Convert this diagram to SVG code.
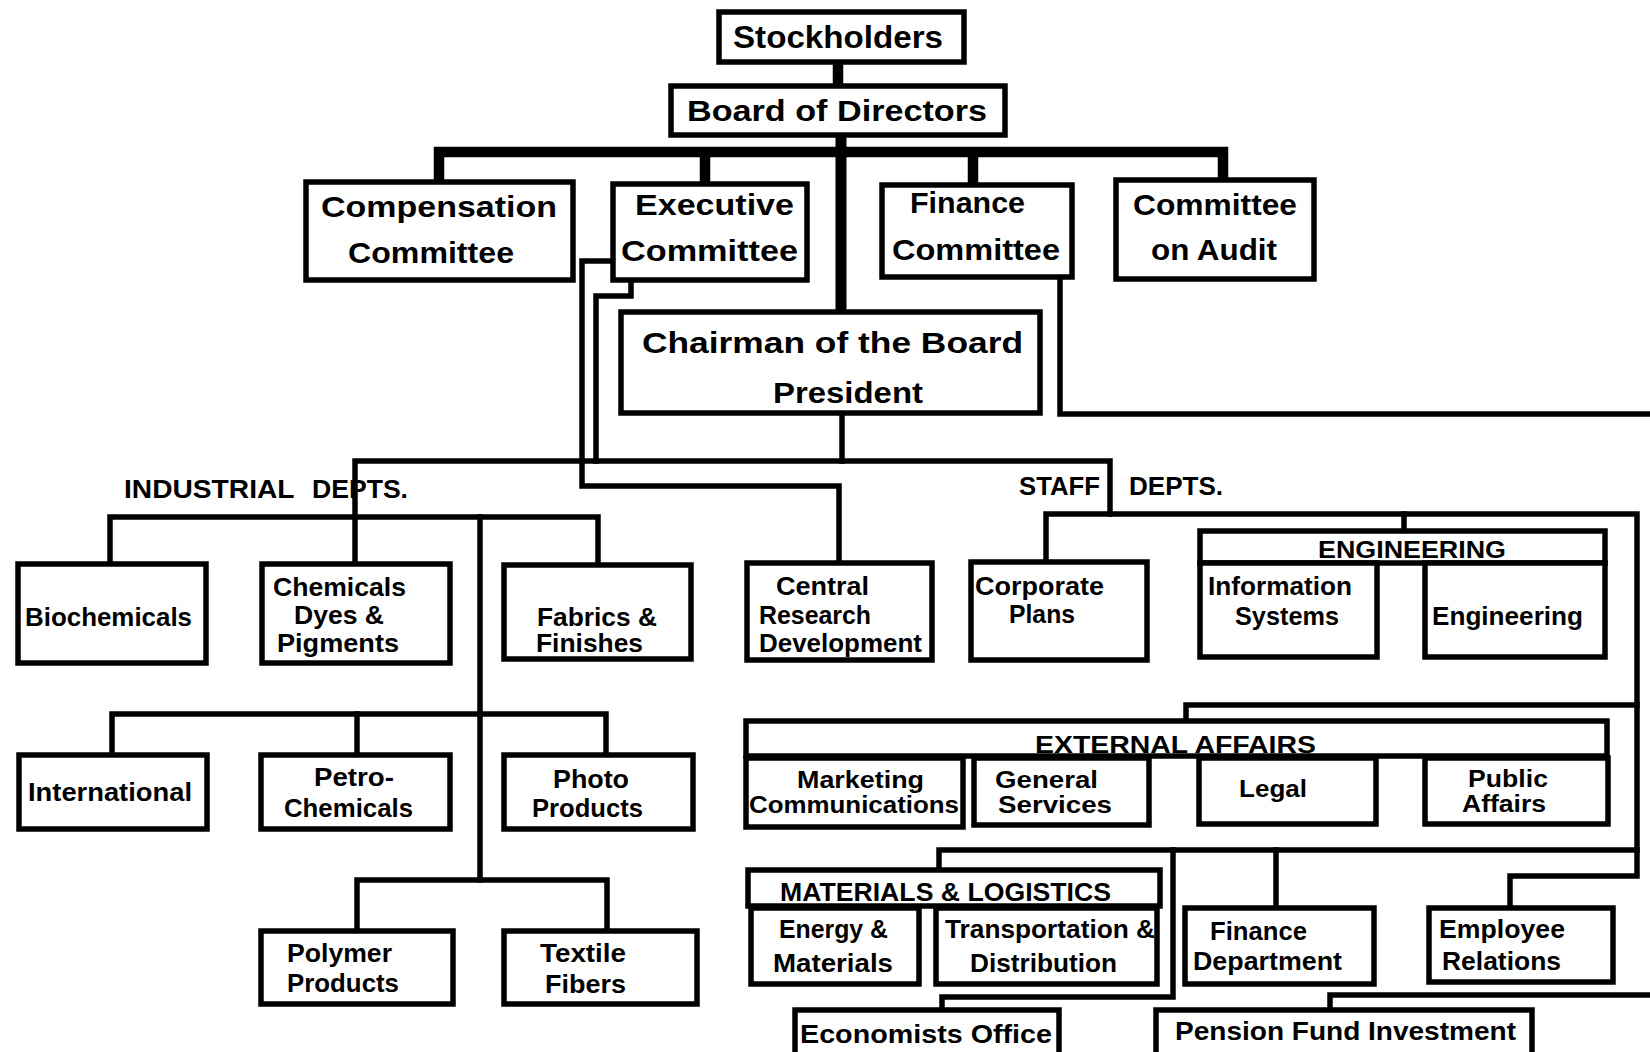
<svg xmlns="http://www.w3.org/2000/svg" width="1650" height="1052" viewBox="0 0 1650 1052">
<style>
.box{fill:#fff;stroke:#000;stroke-width:5.5}
.thick{fill:none;stroke:#000;stroke-width:10.5;stroke-linejoin:miter;stroke-linecap:butt}
.ln{fill:none;stroke:#000;stroke-width:5.5;stroke-linejoin:miter;stroke-linecap:square}
text{font-family:"Liberation Sans",Arial,Helvetica,sans-serif;font-weight:bold;fill:#000}
.t1{font-size:30px}
.t2{font-size:25px}
.t3{font-size:23.5px}
.hd{font-size:25px;font-weight:bold}
</style>
<rect x="0" y="0" width="1650" height="1052" fill="#fff"/>
<g id="connectors">
<path class="thick" d="M838 62V88"/>
<path class="thick" d="M439 184V152H1223V181"/>
<path class="thick" d="M705 152V186"/>
<path class="thick" d="M973 152V186"/>
<path class="thick" d="M841 134V314" style="stroke-width:11"/>
<path class="ln" d="M842 413V461"/>
<path class="ln" d="M355 564V461H1110V514"/>
<path class="ln" d="M110 564V517H598V565"/>
<path class="ln" d="M480 517V880"/>
<path class="ln" d="M112 755V714H606V755"/>
<path class="ln" d="M357 714V755"/>
<path class="ln" d="M357 931V880H607V931"/>
<path class="ln" d="M613 261H582V486H839V563"/>
<path class="ln" d="M631 280V296H596V461"/>
<path class="ln" d="M1046 562V514H1637V876H1510V908"/>
<path class="ln" d="M1404 514V531"/>
<path class="ln" d="M1186 721V705H1637"/>
<path class="ln" d="M939 870V850H1637"/>
<path class="ln" d="M1276 850V908"/>
<path class="ln" d="M1173 850V997H942V1010"/>
<path class="ln" d="M1330 1010V995H1660"/>
<path class="ln" d="M1060 277V414H1660"/>
</g>
<g id="stockholders"><rect class="box" x="719" y="12" width="245" height="50"/><text class="t1" x="733" y="48" textLength="210" lengthAdjust="spacingAndGlyphs" style="font-size:31px">Stockholders</text></g>
<g id="board"><rect class="box" x="671" y="86" width="334" height="49"/><text class="t1" x="687" y="121" textLength="300" lengthAdjust="spacingAndGlyphs">Board  of  Directors</text></g>
<g id="compensation"><rect class="box" x="306" y="182" width="267" height="98"/><text class="t1" x="321" y="217" textLength="236" lengthAdjust="spacingAndGlyphs">Compensation</text><text class="t1" x="348" y="263" textLength="166" lengthAdjust="spacingAndGlyphs">Committee</text></g>
<g id="executive"><rect class="box" x="613" y="184" width="194" height="96"/><text class="t1" x="635" y="215" textLength="159" lengthAdjust="spacingAndGlyphs">Executive</text><text class="t1" x="621" y="261" textLength="177" lengthAdjust="spacingAndGlyphs">Committee</text></g>
<g id="finance-committee"><rect class="box" x="882" y="185" width="190" height="92"/><text class="t1" x="910" y="213" textLength="115" lengthAdjust="spacingAndGlyphs">Finance</text><text class="t1" x="892" y="260" textLength="168" lengthAdjust="spacingAndGlyphs">Committee</text></g>
<g id="audit"><rect class="box" x="1116" y="180" width="198" height="99"/><text class="t1" x="1133" y="215" textLength="164" lengthAdjust="spacingAndGlyphs">Committee</text><text class="t1" x="1151" y="260" textLength="126" lengthAdjust="spacingAndGlyphs">on Audit</text></g>
<g id="chairman"><rect class="box" x="621" y="312" width="419" height="101"/><text class="t1" x="642" y="353" textLength="381" lengthAdjust="spacingAndGlyphs">Chairman  of  the  Board</text><text class="t1" x="773" y="403" textLength="150" lengthAdjust="spacingAndGlyphs">President</text></g>
<g id="industrial-label"><text class="hd" y="498"><tspan x="124" textLength="170" lengthAdjust="spacingAndGlyphs">INDUSTRIAL</tspan> <tspan x="312" textLength="96" lengthAdjust="spacingAndGlyphs">DEPTS.</tspan></text></g>
<g id="staff-label"><text class="hd" y="495"><tspan x="1019" textLength="81" lengthAdjust="spacingAndGlyphs">STAFF</tspan> <tspan x="1129" textLength="94" lengthAdjust="spacingAndGlyphs">DEPTS.</tspan></text></g>
<g id="biochemicals"><rect class="box" x="18" y="564" width="188" height="99"/><text class="t2" x="25" y="626" textLength="167" lengthAdjust="spacingAndGlyphs">Biochemicals</text></g>
<g id="chemicals"><rect class="box" x="262" y="564" width="188" height="99"/><text class="t2" x="273" y="596" textLength="133" lengthAdjust="spacingAndGlyphs">Chemicals</text><text class="t2" x="294" y="624" textLength="90" lengthAdjust="spacingAndGlyphs">Dyes &amp;</text><text class="t2" x="277" y="652" textLength="122" lengthAdjust="spacingAndGlyphs">Pigments</text></g>
<g id="fabrics"><rect class="box" x="504" y="565" width="187" height="94"/><text class="t2" x="537" y="626" textLength="120" lengthAdjust="spacingAndGlyphs">Fabrics &amp;</text><text class="t2" x="536" y="652" textLength="107" lengthAdjust="spacingAndGlyphs">Finishes</text></g>
<g id="central-research"><rect class="box" x="747" y="563" width="185" height="97"/><text class="t2" x="776" y="595" textLength="93" lengthAdjust="spacingAndGlyphs">Central</text><text class="t2" x="759" y="624" textLength="112" lengthAdjust="spacingAndGlyphs">Research</text><text class="t2" x="759" y="652" textLength="163" lengthAdjust="spacingAndGlyphs">Development</text></g>
<g id="corporate-plans"><rect class="box" x="971" y="562" width="176" height="98"/><text class="t2" x="975" y="595" textLength="129" lengthAdjust="spacingAndGlyphs">Corporate</text><text class="t2" x="1009" y="623" textLength="66" lengthAdjust="spacingAndGlyphs">Plans</text></g>
<g id="engineering-group"><rect class="box" x="1200" y="531" width="405" height="32"/><text class="t3" x="1318" y="558" textLength="188" lengthAdjust="spacingAndGlyphs">ENGINEERING</text></g>
<g id="information-systems"><rect class="box" x="1200" y="563" width="177" height="94"/><text class="t2" x="1208" y="595" textLength="144" lengthAdjust="spacingAndGlyphs">Information</text><text class="t2" x="1235" y="625" textLength="104" lengthAdjust="spacingAndGlyphs">Systems</text></g>
<g id="engineering"><rect class="box" x="1425" y="563" width="180" height="94"/><text class="t2" x="1432" y="625" textLength="151" lengthAdjust="spacingAndGlyphs">Engineering</text></g>
<g id="international"><rect class="box" x="19" y="755" width="188" height="74"/><text class="t2" x="28" y="801" textLength="164" lengthAdjust="spacingAndGlyphs">International</text></g>
<g id="petro"><rect class="box" x="261" y="755" width="189" height="74"/><text class="t2" x="314" y="786" textLength="80" lengthAdjust="spacingAndGlyphs">Petro-</text><text class="t2" x="284" y="817" textLength="129" lengthAdjust="spacingAndGlyphs">Chemicals</text></g>
<g id="photo"><rect class="box" x="504" y="755" width="189" height="74"/><text class="t2" x="553" y="788" textLength="76" lengthAdjust="spacingAndGlyphs">Photo</text><text class="t2" x="532" y="817" textLength="111" lengthAdjust="spacingAndGlyphs">Products</text></g>
<g id="polymer"><rect class="box" x="261" y="931" width="192" height="73"/><text class="t2" x="287" y="962" textLength="105" lengthAdjust="spacingAndGlyphs">Polymer</text><text class="t2" x="287" y="992" textLength="112" lengthAdjust="spacingAndGlyphs">Products</text></g>
<g id="textile"><rect class="box" x="504" y="931" width="193" height="73"/><text class="t2" x="540" y="962" textLength="86" lengthAdjust="spacingAndGlyphs">Textile</text><text class="t2" x="545" y="993" textLength="81" lengthAdjust="spacingAndGlyphs">Fibers</text></g>
<g id="external-affairs"><rect class="box" x="746" y="721" width="861" height="35"/><text class="t3" x="1035" y="753" textLength="281" lengthAdjust="spacingAndGlyphs">EXTERNAL  AFFAIRS</text></g>
<g id="marketing"><rect class="box" x="746" y="758" width="217" height="69"/><text class="t3" x="797" y="788" textLength="127" lengthAdjust="spacingAndGlyphs">Marketing</text><text class="t3" x="749" y="813" textLength="210" lengthAdjust="spacingAndGlyphs">Communications</text></g>
<g id="general-services"><rect class="box" x="974" y="758" width="175" height="67"/><text class="t3" x="995" y="788" textLength="103" lengthAdjust="spacingAndGlyphs">General</text><text class="t3" x="998" y="813" textLength="114" lengthAdjust="spacingAndGlyphs">Services</text></g>
<g id="legal"><rect class="box" x="1199" y="758" width="177" height="66"/><text class="t3" x="1239" y="797" textLength="68" lengthAdjust="spacingAndGlyphs">Legal</text></g>
<g id="public-affairs"><rect class="box" x="1425" y="758" width="183" height="66"/><text class="t3" x="1468" y="787" textLength="80" lengthAdjust="spacingAndGlyphs">Public</text><text class="t3" x="1462" y="812" textLength="84" lengthAdjust="spacingAndGlyphs">Affairs</text></g>
<g id="materials-logistics"><rect class="box" x="748" y="870" width="412" height="36"/><text class="t2" x="780" y="901" textLength="331" lengthAdjust="spacingAndGlyphs">MATERIALS &amp; LOGISTICS</text></g>
<g id="energy"><rect class="box" x="751" y="908" width="168" height="76"/><text class="t2" x="779" y="938" textLength="109" lengthAdjust="spacingAndGlyphs">Energy &amp;</text><text class="t2" x="773" y="972" textLength="120" lengthAdjust="spacingAndGlyphs">Materials</text></g>
<g id="transportation"><rect class="box" x="936" y="908" width="221" height="76"/><text class="t2" x="945" y="938" textLength="210" lengthAdjust="spacingAndGlyphs">Transportation &amp;</text><text class="t2" x="970" y="972" textLength="147" lengthAdjust="spacingAndGlyphs">Distribution</text></g>
<g id="finance-department"><rect class="box" x="1185" y="908" width="189" height="76"/><text class="t2" x="1210" y="940" textLength="97" lengthAdjust="spacingAndGlyphs">Finance</text><text class="t2" x="1193" y="970" textLength="149" lengthAdjust="spacingAndGlyphs">Department</text></g>
<g id="employee-relations"><rect class="box" x="1429" y="908" width="184" height="74"/><text class="t2" x="1439" y="938" textLength="126" lengthAdjust="spacingAndGlyphs">Employee</text><text class="t2" x="1442" y="970" textLength="119" lengthAdjust="spacingAndGlyphs">Relations</text></g>
<g id="economists"><rect class="box" x="795" y="1010" width="264" height="60"/><text class="t2" x="800" y="1043" textLength="252" lengthAdjust="spacingAndGlyphs" style="font-size:26px">Economists  Office</text></g>
<g id="pension"><rect class="box" x="1156" y="1010" width="376" height="60"/><text class="t2" x="1175" y="1040" textLength="341" lengthAdjust="spacingAndGlyphs" style="font-size:26px">Pension  Fund  Investment</text></g>
</svg>
